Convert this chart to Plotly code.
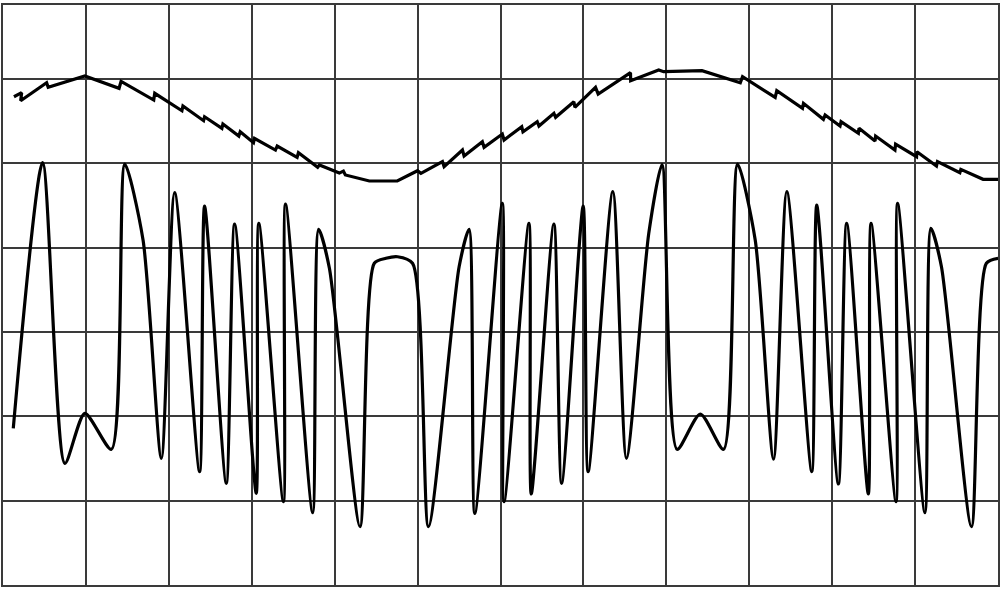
import plotly.graph_objects as go

# upper trace: slow sine with small sawtooth steps (x in divisions, y in divisions)
upper_x = [0.132, 0.225, 0.213, 0.526, 0.545, 0.987, 1.400, 1.424, 1.818, 1.830,
           2.158, 2.170, 2.419, 2.431, 2.640, 2.652, 2.844, 2.861, 3.021, 3.033,
           3.286, 3.307, 3.547, 3.563, 3.795, 3.816, 4.056, 4.105, 4.129, 4.418,
           4.755, 4.999, 5.040, 5.300, 5.320, 5.541, 5.561, 5.781, 5.802, 6.022,
           6.043, 6.256, 6.271, 6.443, 6.464, 6.644, 6.665, 6.885, 6.897, 7.146,
           7.178, 7.568, 7.570, 7.908, 7.968, 8.430, 8.892, 8.919, 9.313, 9.332,
           9.642, 9.654, 9.894, 9.915, 10.095, 10.107, 10.316, 10.324, 10.517, 10.524,
           10.757, 10.765, 11.018, 11.022, 11.258, 11.270, 11.540, 11.552, 11.820, 12.001]
upper_y = [5.790, 5.838, 5.743, 5.956, 5.902, 6.036, 5.890, 5.973, 5.751, 5.831,
           5.624, 5.680, 5.506, 5.553, 5.416, 5.467, 5.324, 5.375, 5.245, 5.297,
           5.158, 5.206, 5.072, 5.126, 4.953, 4.980, 4.885, 4.909, 4.862, 4.791,
           4.791, 4.913, 4.882, 5.020, 4.960, 5.158, 5.087, 5.257, 5.190, 5.348,
           5.277, 5.435, 5.375, 5.494, 5.443, 5.593, 5.546, 5.731, 5.665, 5.902,
           5.822, 6.075, 5.980, 6.107, 6.087, 6.099, 5.956, 6.027, 5.783, 5.862,
           5.653, 5.712, 5.522, 5.573, 5.443, 5.494, 5.356, 5.416, 5.265, 5.324,
           5.158, 5.229, 5.079, 5.138, 4.969, 5.020, 4.889, 4.929, 4.811, 4.811]

# lower trace: fast oscillation, turning points
lower_x = [0.124, 0.478, 0.746, 0.987, 1.308, 1.469, 1.689, 1.910, 2.070, 2.371,
           2.431, 2.693, 2.793, 3.054, 3.085, 3.382, 3.407, 3.735, 3.807, 3.936,
           4.306, 4.478, 4.619, 4.758, 4.939, 5.131, 5.501, 5.621, 5.690, 6.022,
           6.043, 6.343, 6.371, 6.644, 6.737, 6.997, 7.057, 7.355, 7.519, 7.788,
           7.948, 8.129, 8.410, 8.691, 8.859, 9.072, 9.293, 9.453, 9.754, 9.814,
           10.075, 10.175, 10.436, 10.469, 10.770, 10.789, 11.119, 11.191, 11.318, 11.680,
           11.860, 12.001]
lower_y = [1.858, 5.008, 1.443, 2.036, 1.609, 4.992, 4.091, 1.502, 4.652, 1.344,
           4.494, 1.206, 4.281, 1.087, 4.289, 0.988, 4.518, 0.857, 4.218, 3.759,
           0.691, 3.815, 3.874, 3.893, 3.815, 0.691, 3.774, 4.218, 0.850, 4.526,
           0.988, 4.289, 1.079, 4.281, 1.206, 4.494, 1.344, 4.664, 1.502, 4.170,
           4.986, 1.609, 2.028, 1.609, 4.992, 4.091, 1.491, 4.664, 1.344, 4.506,
           1.198, 4.289, 1.079, 4.289, 0.988, 4.526, 0.857, 4.230, 3.774, 0.691,
           3.815, 3.874]

fig = go.Figure()
fig.add_trace(go.Scatter(x=upper_x, y=upper_y, mode='lines',
                         line=dict(color='black', width=3.2)))
fig.add_trace(go.Scatter(x=lower_x, y=lower_y, mode='lines',
                         line=dict(color='black', width=3.2, shape='spline', smoothing=0.7)))

grid = dict(showgrid=True, dtick=1, gridcolor='#3a3a3a', gridwidth=2,
            showline=True, mirror=True, linecolor='#3a3a3a', linewidth=2,
            zeroline=False, showticklabels=False, ticks='')
fig.update_xaxes(range=[0, 12], **grid)
fig.update_yaxes(range=[0, 6.878], **grid)

fig.update_layout(width=1002, height=590, showlegend=False,
                  margin=dict(l=3, r=2, t=5, b=5),
                  plot_bgcolor='white', paper_bgcolor='white')

# drop the browser's default 8px body margin so the grid lands where it should
fig.write_html("out.html", config={'displayModeBar': False},
               post_script="document.body.style.margin='0';")
